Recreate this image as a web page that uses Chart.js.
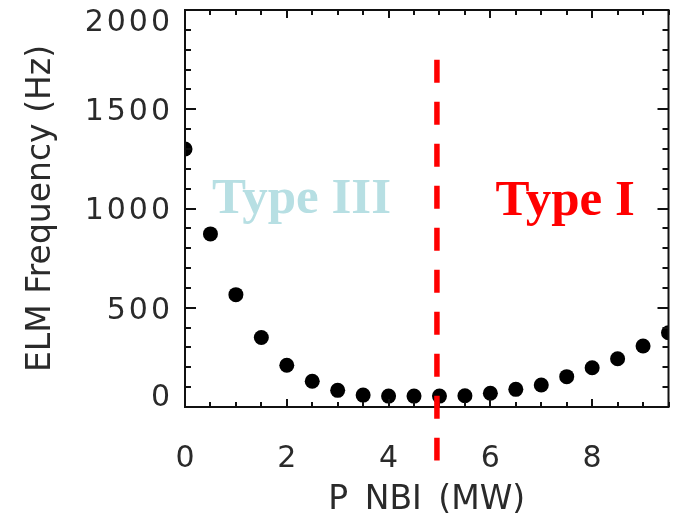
<!DOCTYPE html>
<html>
<head>
<meta charset="utf-8">
<script src="https://cdn.jsdelivr.net/npm/chart.js@4/dist/chart.umd.min.js"></script>
<style>
  html, body { margin: 0; padding: 0; background: #fff; }
  #chart { display: block; }
</style>
</head>
<body>
<canvas id="chart" width="676" height="520"></canvas>
<script>
// P NBI (MW) vs ELM frequency (Hz)
const pNbi = [0, 0.5, 1, 1.5, 2, 2.5, 3, 3.5, 4, 4.5, 5, 5.5, 6, 6.5, 7, 7.5, 8, 8.5, 9, 9.5];
const elmFreq = [1300, 872, 566, 350, 210, 130, 84, 60, 55, 55, 55, 57, 69, 89, 111, 153, 198, 243, 307, 374];

const xRange = [0, 9.5];
const yRange = [0, 2000];
const xMajorStep = 2, xMinorStep = 0.5;
const yMajorStep = 500, yMinorStep = 100;

// boundary between ELM types
const splitX = 4.95;
const splitYSpan = [1750, -270];

const regionLabels = ['Type III', 'Type I'];
const regionLabelX = [0.53, 6.1];
const regionLabelY = [977, 967];
const regionColors = ['#b7dfe3', '#ff0000'];

const axisFont = { family: 'DejaVu Sans', size: 30 };
const textColor = '#2a2a2a';

const frameAndTicks = {
    id: 'frameAndTicks',
    afterDatasetsDraw(chart) {
        const { ctx, chartArea: a, scales: { x, y } } = chart;
        ctx.save();
        ctx.strokeStyle = '#111';
        ctx.lineWidth = 2;
        ctx.strokeRect(a.left, a.top, a.right - a.left, a.bottom - a.top);

        ctx.beginPath();
        for (let v = xRange[0]; v <= xRange[1] + 1e-9; v += xMinorStep) {
            const px = Math.round(x.getPixelForValue(v));
            const len = Math.abs(v / xMajorStep - Math.round(v / xMajorStep)) < 1e-6 ? 8 : 5;
            ctx.moveTo(px, a.bottom); ctx.lineTo(px, a.bottom - len);
            ctx.moveTo(px, a.top); ctx.lineTo(px, a.top + len);
        }
        for (let v = yRange[0]; v <= yRange[1] + 1e-9; v += yMinorStep) {
            const py = Math.round(y.getPixelForValue(v));
            const len = v % yMajorStep === 0 ? 11 : 6;
            ctx.moveTo(a.left, py); ctx.lineTo(a.left + len, py);
            ctx.moveTo(a.right, py); ctx.lineTo(a.right - len, py);
        }
        ctx.stroke();

        // y tick labels, end labels nudged inward like the original plot
        ctx.font = '30px "DejaVu Sans"';
        ctx.fillStyle = textColor;
        ctx.textAlign = 'right';
        ctx.textBaseline = 'middle';
        if ('letterSpacing' in ctx) ctx.letterSpacing = '3px';
        y.ticks.forEach(t => {
            const py = Math.min(Math.max(y.getPixelForValue(t.value) + 3, a.top + 13), a.bottom - 9);
            ctx.fillText(String(t.value), a.left - 12, py);
        });
        if ('letterSpacing' in ctx) ctx.letterSpacing = '0px';

        // dashed boundary line
        const sx = x.getPixelForValue(splitX);
        ctx.strokeStyle = '#ff0000';
        ctx.lineWidth = 5.5;
        ctx.setLineDash([23, 19]);
        ctx.beginPath();
        ctx.moveTo(sx, y.getPixelForValue(splitYSpan[0]));
        ctx.lineTo(sx, y.getPixelForValue(splitYSpan[1]));
        ctx.stroke();
        ctx.setLineDash([]);

        // region labels
        ctx.font = 'bold 51px "Liberation Serif", "Times New Roman", serif';
        ctx.textAlign = 'left';
        ctx.textBaseline = 'alphabetic';
        regionLabels.forEach((t, i) => {
            ctx.fillStyle = regionColors[i];
            ctx.fillText(t, x.getPixelForValue(regionLabelX[i]), y.getPixelForValue(regionLabelY[i]));
        });
        ctx.restore();
    }
};

new Chart(document.getElementById('chart'), {
    type: 'scatter',
    data: {
        datasets: [{
            data: pNbi.map((p, i) => ({ x: p, y: elmFreq[i] })),
            backgroundColor: '#000',
            borderWidth: 0,
            pointRadius: 7.5,
            pointHoverRadius: 7.5,
            clip: 0
        }]
    },
    options: {
        responsive: false,
        devicePixelRatio: 1,
        animation: false,
        layout: { padding: { top: 10, right: 5.5, left: 0, bottom: 0 } },
        plugins: { legend: { display: false }, tooltip: { enabled: false } },
        scales: {
            x: {
                type: 'linear',
                min: xRange[0],
                max: xRange[1],
                grid: { display: false },
                border: { display: false },
                ticks: { stepSize: xMajorStep, includeBounds: false, font: axisFont, color: textColor, padding: 26, maxRotation: 0 },
                title: { display: true, text: 'P\u2002NBI\u2002(MW)', font: { family: 'DejaVu Sans', size: 33 }, color: textColor, padding: { top: 0, bottom: 0 } },
                afterFit(scale) {
                    scale.height = 113;
                    scale.paddingLeft = 0;
                    scale.paddingRight = 0;
                }
            },
            y: {
                min: yRange[0],
                max: yRange[1],
                grid: { display: false },
                border: { display: false },
                ticks: { stepSize: yMajorStep, display: false },
                title: { display: true, text: 'ELM Frequency (Hz)', font: { family: 'DejaVu Sans', size: 33 }, color: textColor, padding: { top: 22, bottom: 0 } },
                afterFit(scale) {
                    scale.width = 185;
                    scale.paddingTop = 0;
                    scale.paddingBottom = 0;
                }
            }
        }
    },
    plugins: [frameAndTicks]
});
</script>
</body>
</html>
